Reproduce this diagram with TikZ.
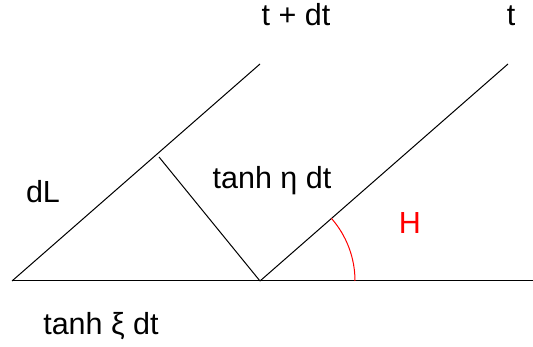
\documentclass[tikz,border=0pt]{standalone}
\usepackage{fontspec}
\setmainfont{Liberation Sans}
\begin{document}
\begin{tikzpicture}[x=1pt,y=1pt,
  lbl/.style={inner sep=0pt,anchor=base,font=\fontsize{30.5}{35}\selectfont},
  ln/.style={line width=1pt,black}]
\useasboundingbox (0,0) rectangle (533,347);
\coordinate (A) at (12,66);
\coordinate (B) at (260,66);
\coordinate (E) at (533,66);
\coordinate (P) at (260,283);
\coordinate (Q) at (508,283);
\coordinate (F) at (159,190);
\draw[ln] (A) -- (E);
\draw[ln] (A) -- (P);
\draw[ln] (B) -- (Q);
\draw[ln] (F) -- (B);
\draw[line width=1pt,red] ([xshift=95pt]B) arc[start angle=0,end angle=41.2,radius=95];
\node[lbl] (tdt) at (296,321) {t + dt};
\node[lbl] (t) at (511,321) {t};
\node[lbl] (dL) at (43,144) {dL};
\node[lbl] (eta) at (272,158) {tanh η dt};
\node[lbl,text=red] (H) at (410,113) {H};
\node[lbl] (xi) at (101,12) {tanh ξ dt};
\end{tikzpicture}
\end{document}
